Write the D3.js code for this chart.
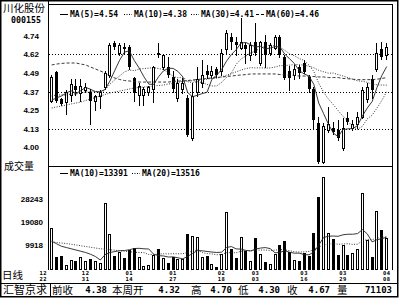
<!DOCTYPE html>
<html>
<head>
<meta charset="utf-8">
<script src="https://cdn.jsdelivr.net/npm/d3@7"></script>
<style>
  html, body { margin: 0; padding: 0; background: #fff; }
  svg { display: block; }
</style>
</head>
<body>
<div id="chart"></div>
<script>
// daily bars, oldest first
const open = [
  4.31, 4.50, 4.32, 4.30, 4.35, 4.41, 4.36, 4.38, 4.37, 4.31,
  4.34, 4.40, 4.48, 4.69, 4.63, 4.67, 4.67, 4.46, 4.35, 4.35,
  4.37, 4.39, 4.63, 4.53, 4.53, 4.47, 4.33, 4.39, 4.33, 4.06,
  4.37, 4.43, 4.51, 4.48, 4.52, 4.51, 4.65, 4.73, 4.70, 4.66,
  4.68, 4.61, 4.70, 4.56, 4.70, 4.63, 4.66, 4.73, 4.60, 4.51,
  4.48, 4.53, 4.56, 4.47, 4.39, 4.16, 3.90, 4.11, 4.13, 4.11,
  3.99, 4.19, 4.13, 4.15, 4.20, 4.32, 4.45, 4.52, 4.65, 4.61
];
const high = [
  4.48, 4.51, 4.33, 4.38, 4.45, 4.45, 4.45, 4.43, 4.39, 4.35,
  4.38, 4.51, 4.69, 4.71, 4.69, 4.69, 4.68, 4.47, 4.43, 4.40,
  4.41, 4.54, 4.69, 4.62, 4.60, 4.51, 4.45, 4.46, 4.35, 4.43,
  4.53, 4.58, 4.55, 4.54, 4.53, 4.65, 4.78, 4.76, 4.73, 4.86,
  4.69, 4.70, 4.83, 4.71, 4.75, 4.69, 4.75, 4.75, 4.61, 4.54,
  4.55, 4.55, 4.58, 4.48, 4.40, 4.20, 4.16, 4.27, 4.17, 4.18,
  4.19, 4.23, 4.18, 4.23, 4.40, 4.43, 4.48, 4.69, 4.70, 4.69
];
const low = [
  4.30, 4.30, 4.28, 4.22, 4.31, 4.35, 4.31, 4.37, 4.15, 4.25,
  4.26, 4.39, 4.47, 4.65, 4.61, 4.63, 4.52, 4.31, 4.28, 4.28,
  4.35, 4.30, 4.60, 4.52, 4.47, 4.37, 4.31, 4.36, 4.07, 4.05,
  4.34, 4.40, 4.46, 4.47, 4.47, 4.48, 4.63, 4.65, 4.61, 4.65,
  4.56, 4.58, 4.61, 4.55, 4.53, 4.61, 4.65, 4.60, 4.45, 4.38,
  4.45, 4.46, 4.49, 4.37, 4.13, 3.89, 3.89, 4.10, 4.09, 4.05,
  3.98, 4.15, 4.11, 4.13, 4.19, 4.30, 4.33, 4.51, 4.59, 4.59
];
const close = [
  4.47, 4.31, 4.29, 4.37, 4.42, 4.38, 4.41, 4.40, 4.31, 4.34,
  4.37, 4.49, 4.68, 4.67, 4.68, 4.65, 4.53, 4.36, 4.41, 4.39,
  4.40, 4.53, 4.61, 4.61, 4.48, 4.39, 4.43, 4.43, 4.08, 4.34,
  4.45, 4.48, 4.48, 4.51, 4.48, 4.63, 4.76, 4.70, 4.68, 4.70,
  4.65, 4.68, 4.63, 4.70, 4.61, 4.68, 4.73, 4.61, 4.46, 4.46,
  4.52, 4.49, 4.50, 4.39, 4.18, 3.90, 4.14, 4.15, 4.10, 4.06,
  4.13, 4.17, 4.15, 4.20, 4.38, 4.40, 4.38, 4.63, 4.60, 4.67
];
const volume = [
  16900, 5300, 5700, 1900, 4000, 3700, 5100, 3700, 4300, 3500,
  2700, 26700, 14400, 5600, 7300, 4700, 8000, 8700, 5100, 1600,
  1900, 6000, 8300, 4700, 2900, 5300, 4500, 4500, 14400, 13600,
  13300, 5300, 5700, 2300, 1200, 6400, 23100, 8500, 4900, 13100,
  7700, 3600, 12900, 6300, 3200, 2300, 6300, 10100, 11500, 7100,
  4000, 3700, 6900, 5700, 14700, 29300, 37300, 14700, 12500, 6000,
  10000, 6000, 6900, 8300, 30700, 12000, 5300, 23700, 16000, 12700
];

// moving averages as drawn
const ma5 = [
  4.313, 4.327, 4.34, 4.36, 4.375, 4.356, 4.376, 4.397, 4.385, 4.369,
  4.368, 4.384, 4.44, 4.511, 4.579, 4.633, 4.641, 4.577, 4.527, 4.468,
  4.419, 4.417, 4.468, 4.507, 4.525, 4.524, 4.504, 4.468, 4.363, 4.335,
  4.345, 4.356, 4.365, 4.452, 4.48, 4.516, 4.572, 4.616, 4.649, 4.693,
  4.697, 4.681, 4.667, 4.671, 4.653, 4.66, 4.669, 4.667, 4.619, 4.588,
  4.556, 4.509, 4.487, 4.473, 4.417, 4.293, 4.223, 4.152, 4.093, 4.069,
  4.116, 4.121, 4.123, 4.143, 4.207, 4.26, 4.303, 4.397, 4.477, 4.536
];
const ma10 = [
  4.34, 4.347, 4.347, 4.347, 4.353, 4.353, 4.36, 4.367, 4.367, 4.372,
  4.362, 4.38, 4.419, 4.448, 4.474, 4.501, 4.513, 4.509, 4.519, 4.523,
  4.526, 4.529, 4.523, 4.517, 4.497, 4.471, 4.461, 4.468, 4.435, 4.43,
  4.435, 4.43, 4.417, 4.407, 4.407, 4.431, 4.464, 4.491, 4.551, 4.587,
  4.607, 4.627, 4.641, 4.66, 4.673, 4.679, 4.675, 4.667, 4.645, 4.621,
  4.608, 4.589, 4.577, 4.546, 4.503, 4.425, 4.366, 4.319, 4.283, 4.243,
  4.205, 4.172, 4.137, 4.118, 4.138, 4.188, 4.212, 4.26, 4.31, 4.371
];
const ma30 = [
  4.26, 4.267, 4.273, 4.28, 4.287, 4.293, 4.30, 4.31, 4.32, 4.33,
  4.34, 4.35, 4.36, 4.367, 4.373, 4.38, 4.387, 4.393, 4.397, 4.40,
  4.403, 4.407, 4.41, 4.413, 4.42, 4.423, 4.43, 4.437, 4.44, 4.442,
  4.441, 4.447, 4.453, 4.457, 4.459, 4.467, 4.479, 4.489, 4.501, 4.513,
  4.523, 4.529, 4.527, 4.528, 4.526, 4.527, 4.533, 4.542, 4.543, 4.546,
  4.55, 4.549, 4.545, 4.538, 4.528, 4.511, 4.502, 4.492, 4.493, 4.483,
  4.473, 4.463, 4.452, 4.441, 4.438, 4.431, 4.418, 4.415, 4.413, 4.412
];
const ma60 = [
  4.547, 4.553, 4.557, 4.56, 4.56, 4.56, 4.553, 4.547, 4.533, 4.52,
  4.507, 4.493, 4.473, 4.46, 4.45, 4.443, 4.44, 4.437, 4.433, 4.433,
  4.433, 4.433, 4.433, 4.433, 4.433, 4.437, 4.44, 4.44, 4.443, 4.447,
  4.45, 4.453, 4.457, 4.46, 4.463, 4.467, 4.47, 4.473, 4.477, 4.48,
  4.483, 4.487, 4.487, 4.487, 4.487, 4.487, 4.487, 4.483, 4.48, 4.48,
  4.477, 4.473, 4.473, 4.47, 4.47, 4.467, 4.467, 4.463, 4.463, 4.463,
  4.457, 4.455, 4.452, 4.449, 4.449, 4.449, 4.449, 4.452, 4.457, 4.463
];
const volMa10 = [
  11500, 10500, 9500, 9000, 8500, 8000, 7500, 7000, 6300, 5410,
  3990, 6130, 7000, 7370, 7700, 7800, 8090, 8590, 8670, 8480,
  8400, 6330, 5720, 5630, 5190, 5250, 4900, 4480, 5410, 6610,
  7750, 7680, 7420, 7180, 7010, 7120, 8980, 9380, 8430, 8380,
  7820, 7650, 8370, 8770, 8970, 8560, 6880, 7040, 7700, 7100,
  6730, 6740, 6140, 6080, 7230, 9930, 13030, 13490, 13590, 13480,
  14080, 14310, 14310, 14570, 16170, 14440, 11240, 12140, 12490, 13160
];
const volMa20 = [
  11300, 11000, 10800, 10600, 10300, 10000, 9700, 9400, 9100, 8800,
  8500, 8300, 8100, 7900, 7700, 7500, 7300, 7100, 7000, 6945,
  6195, 6230, 6360, 6500, 6445, 6525, 6495, 6535, 7040, 7545,
  8075, 7005, 6570, 6405, 6100, 6185, 6940, 6930, 6920, 7495,
  7785, 7665, 7895, 7975, 7990, 7840, 7930, 8210, 8065, 7740,
  7275, 7195, 7255, 7425, 8100, 9245, 9955, 10265, 10645, 10290,
  10405, 10525, 10225, 10325, 11700, 12185, 12135, 12815, 13040, 13320
];

const priceTicks = [4.00, 4.123, 4.247, 4.37, 4.493, 4.617, 4.74];
const priceTickLabels = ["4.00", "4.13", "4.25", "4.37", "4.49", "4.62", "4.74"];
const priceGrid = [4.123, 4.37, 4.617];
const volTicks = [9918, 19080, 28243];

const dateLabels = ["12/22", "12/31", "01/14", "01/27", "02/18", "03/03", "03/16", "03/29", "04/08"];
const dateIdx = [0, 7, 16, 25, 35, 42, 52, 60, 69];

const maLegend = [
  { text: "MA(5)=4.54", dash: null },
  { text: "MA(10)=4.38", dash: "1,1.5" },
  { text: "MA(30)=4.41", dash: "1,1.5" },
  { text: "MA(60)=4.46", dash: "3,2" }
];
const volLegend = [
  { text: "MA(10)=13391", dash: null },
  { text: "MA(20)=13516", dash: "1,1.5" }
];
const infoLabels = ["前收", "本周开", "高", "低", "收", "量"];
const infoValues = ["4.38", "4.32", "4.70", "4.30", "4.67", "71103"];

const W = 400, H = 300;
const left = 48, right = 393;
const priceTop = 4, priceBottom = 166, volBottom = 270, infoTop = 283, infoBottom = 296;
const mono = "'DejaVu Sans Mono', monospace";
const cjk = "'Noto Sans CJK SC', sans-serif";

const svg = d3.select("#chart").append("svg")
    .attr("width", W)
    .attr("height", H);

svg.append("rect").attr("width", W).attr("height", H).attr("fill", "#fff");

const x = d3.scaleLinear().domain([0, open.length - 1]).range([51.7, 386.7]);
const y = d3.scaleLinear().domain([4.00, 4.74]).range([147, 36]);
const yv = d3.scaleLinear().domain([0, 28243]).range([volBottom, 199.4]);

// frame
const frame = svg.append("g").attr("stroke", "#000").attr("fill", "none");
frame.append("rect").attr("x", 0.75).attr("y", 0.75).attr("width", 397).attr("height", infoBottom)
    .attr("stroke-width", 1.5);
frame.append("line").attr("x1", left + 0.5).attr("x2", left + 0.5).attr("y1", 0).attr("y2", volBottom);
frame.append("line").attr("x1", right - 0.5).attr("x2", right - 0.5).attr("y1", priceTop).attr("y2", volBottom);
frame.append("line").attr("x1", left).attr("x2", right).attr("y1", priceTop + 0.5).attr("y2", priceTop + 0.5);
frame.append("line").attr("x1", left).attr("x2", right).attr("y1", priceBottom + 0.5).attr("y2", priceBottom + 0.5);
frame.append("line").attr("x1", 0).attr("x2", 398).attr("y1", infoTop + 0.5).attr("y2", infoTop + 0.5);
frame.append("line").attr("x1", 50.5).attr("x2", 50.5).attr("y1", infoTop).attr("y2", infoBottom);

// grid
svg.append("g").selectAll("line")
    .data(priceGrid)
    .enter().append("line")
    .attr("x1", left + 1).attr("x2", right - 1)
    .attr("y1", d => Math.round(y(d)) + 0.5)
    .attr("y2", d => Math.round(y(d)) + 0.5)
    .attr("stroke", "#000")
    .attr("stroke-dasharray", "1,2");

// price axis labels
svg.append("g").selectAll("text")
    .data(priceTicks)
    .enter().append("text")
    .attr("x", 39)
    .attr("y", d => y(d) + 3)
    .attr("text-anchor", "end")
    .attr("font-family", "'Liberation Sans', sans-serif")
    .attr("font-weight", "bold")
    .attr("font-size", 8)
    .text((d, i) => priceTickLabels[i]);

// volume axis labels
svg.append("g").selectAll("text")
    .data(volTicks)
    .enter().append("text")
    .attr("x", 43)
    .attr("y", d => yv(d) + 3)
    .attr("text-anchor", "end")
    .attr("font-family", "'Liberation Sans', sans-serif")
    .attr("font-weight", "bold")
    .attr("font-size", 8)
    .text(d => d);

// candles
const bars = d3.range(open.length).map(i => ({
    i, o: open[i], h: high[i], l: low[i], c: close[i], v: volume[i], up: close[i] >= open[i]
}));
const bodyLeft = d => Math.round(x(d.i) - 1.5);

const candle = svg.append("g").selectAll("g")
    .data(bars)
    .enter().append("g");

candle.append("line")
    .attr("x1", d => bodyLeft(d) + 1.5)
    .attr("x2", d => bodyLeft(d) + 1.5)
    .attr("y1", d => Math.round(y(d.h)))
    .attr("y2", d => Math.round(y(d.l)) + 1)
    .attr("stroke", "#000");

candle.append("rect")
    .attr("x", d => d.up ? bodyLeft(d) + 0.5 : bodyLeft(d))
    .attr("y", d => Math.round(y(Math.max(d.o, d.c))) + (d.up ? 0.5 : 0))
    .attr("width", d => d.up ? 2 : 3)
    .attr("height", d => {
        const h = Math.round(y(Math.min(d.o, d.c))) - Math.round(y(Math.max(d.o, d.c)));
        return d.up ? Math.max(h, 1) : Math.max(h, 2);
    })
    .attr("fill", d => d.up ? "#fff" : "#000")
    .attr("stroke", d => d.up ? "#000" : "none");

// moving averages
const priceLine = d3.line().x((d, i) => x(i)).y(d => y(d));
const maSeries = [ma5, ma10, ma30, ma60];
svg.append("g").selectAll("path")
    .data(maSeries)
    .enter().append("path")
    .attr("d", d => priceLine(d))
    .attr("fill", "none")
    .attr("stroke", "#222")
    .attr("stroke-width", 0.9)
    .attr("stroke-dasharray", (d, i) => maLegend[i].dash);

// volume bars
svg.append("g").selectAll("rect")
    .data(bars)
    .enter().append("rect")
    .attr("x", d => d.up ? bodyLeft(d) + 0.5 : bodyLeft(d))
    .attr("y", d => Math.round(yv(d.v)) + (d.up ? 0.5 : 0))
    .attr("width", d => d.up ? 2 : 3)
    .attr("height", d => volBottom - Math.round(yv(d.v)) - (d.up ? 1 : 0))
    .attr("fill", d => d.up ? "#fff" : "#000")
    .attr("stroke", d => d.up ? "#000" : "none");

const volLine = d3.line().x((d, i) => x(i)).y(d => yv(d));
svg.append("g").selectAll("path")
    .data([volMa10, volMa20])
    .enter().append("path")
    .attr("d", d => volLine(d))
    .attr("fill", "none")
    .attr("stroke", "#222")
    .attr("stroke-width", 0.9)
    .attr("stroke-dasharray", (d, i) => volLegend[i].dash);

// legends
function drawLegend(items, starts, baseline) {
    const g = svg.append("g");
    items.forEach((item, k) => {
        const x0 = starts[k];
        g.append("line")
            .attr("x1", x0).attr("x2", x0 + 8)
            .attr("y1", baseline - 2.5).attr("y2", baseline - 2.5)
            .attr("stroke", "#000")
            .attr("stroke-dasharray", item.dash);
        g.append("text")
            .attr("x", x0 + 10)
            .attr("y", baseline)
            .attr("font-family", mono)
            .attr("font-weight", "bold")
            .attr("font-size", 8)
            .text(item.text);
    });
}
drawLegend(maLegend, [60, 124, 191, 256], 17);
drawLegend(volLegend, [60, 132], 176);

// left captions
svg.append("text").attr("x", 3).attr("y", 11.5)
    .attr("font-family", cjk).attr("font-size", 10.5).text("川化股份");
svg.append("text").attr("x", 11).attr("y", 23)
    .attr("font-family", mono).attr("font-weight", "bold").attr("font-size", 8.3).text("000155");
svg.append("text").attr("x", 4).attr("y", 170)
    .attr("font-family", cjk).attr("font-size", 10).text("成交量");
svg.append("text").attr("x", 2).attr("y", 278.5)
    .attr("font-family", cjk).attr("font-size", 10.5).text("日线");

// date labels, month over day
const dateG = svg.append("g")
    .attr("font-family", mono)
    .attr("font-weight", "bold")
    .attr("font-size", 5.5)
    .attr("letter-spacing", 0.5)
    .attr("text-anchor", "middle");
dateLabels.forEach((lab, k) => {
    const px = k === 0 ? x(dateIdx[k]) - 8.5 : x(dateIdx[k]);
    const [m, d] = lab.split("/");
    dateG.append("text").attr("x", px).attr("y", 274.5).text(m);
    dateG.append("text").attr("x", px).attr("y", 281).text(d);
});

// info bar
svg.append("text").attr("x", 3).attr("y", 294)
    .attr("font-family", cjk).attr("font-size", 11).text("汇智京求");
const labelX = [52, 112, 191, 238, 287, 337];
const valueRight = [107, 180, 232, 280, 330, 392];
infoLabels.forEach((lab, k) => {
    svg.append("text").attr("x", labelX[k]).attr("y", 293.5)
        .attr("font-family", cjk).attr("font-size", 10.5).text(lab);
    svg.append("text").attr("x", valueRight[k]).attr("y", 293)
        .attr("text-anchor", "end")
        .attr("font-family", mono).attr("font-weight", "bold").attr("font-size", 9)
        .text(infoValues[k]);
});
</script>
</body>
</html>
